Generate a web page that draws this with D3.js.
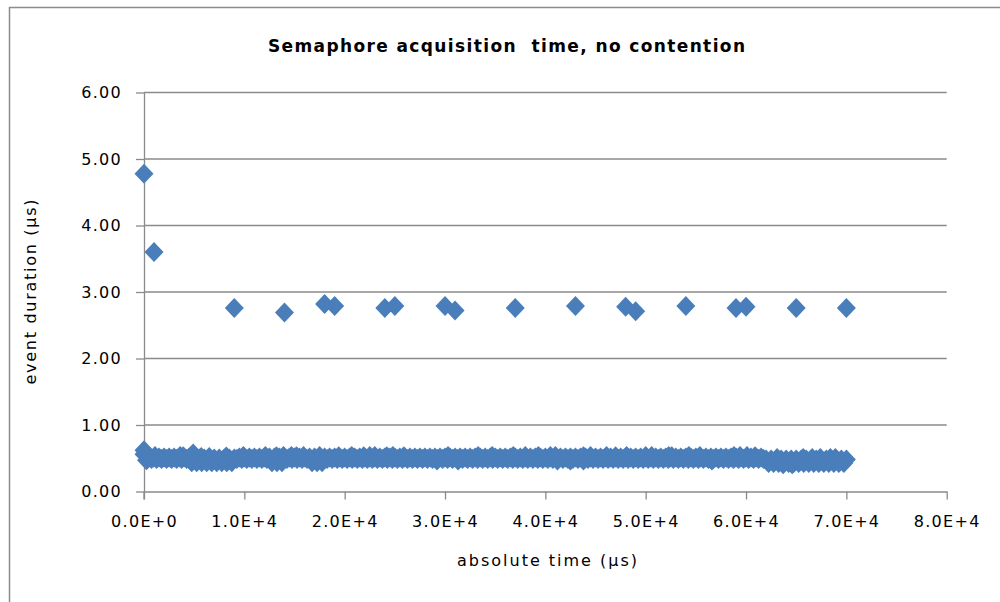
<!DOCTYPE html>
<html>
<head>
<meta charset="utf-8">
<script src="https://cdn.jsdelivr.net/npm/d3@7"></script>
<style>
  html, body { margin: 0; padding: 0; background: #fff; }
  svg { display: block; }
  text { font-family: "DejaVu Sans", sans-serif; fill: #000; }
</style>
</head>
<body>
<svg id="chart" width="1000" height="602"></svg>
<script>
// ---------- DATA ----------
const chartTitle = "Semaphore acquisition  time, no contention";
const xTitle = "absolute time (µs)";
const yTitle = "event duration (µs)";

const xTickValues = [0, 10000, 20000, 30000, 40000, 50000, 60000, 70000, 80000];
const xTickLabels = ["0.0E+0", "1.0E+4", "2.0E+4", "3.0E+4", "4.0E+4", "5.0E+4", "6.0E+4", "7.0E+4", "8.0E+4"];
const yTickValues = [0, 1, 2, 3, 4, 5, 6];
const yTickLabels = ["0.00", "1.00", "2.00", "3.00", "4.00", "5.00", "6.00"];

// dense band of samples: upper edge samples
const bandUpperTime = [
  0, 500, 1000, 1500, 2000, 2500, 3000, 3500, 4000, 4500,
  5000, 5500, 6000, 6500, 7000, 7500, 8000, 8500, 9000, 9500,
  10000, 10500, 11000, 11500, 12000, 12500, 13000, 13500, 14000, 14500,
  15000, 15500, 16000, 16500, 17000, 17500, 18000, 18500, 19000, 19500,
  20000, 20500, 21000, 21500, 22000, 22500, 23000, 23500, 24000, 24500,
  25000, 25500, 26000, 26500, 27000, 27500, 28000, 28500, 29000, 29500,
  30000, 30500, 31000, 31500, 32000, 32500, 33000, 33500, 34000, 34500,
  35000, 35500, 36000, 36500, 37000, 37500, 38000, 38500, 39000, 39500,
  40000, 40500, 41000, 41500, 42000, 42500, 43000, 43500, 44000, 44500,
  45000, 45500, 46000, 46500, 47000, 47500, 48000, 48500, 49000, 49500,
  50000, 50500, 51000, 51500, 52000, 52500, 53000, 53500, 54000, 54500,
  55000, 55500, 56000, 56500, 57000, 57500, 58000, 58500, 59000, 59500,
  60000, 60500, 61000, 61500, 62000, 62500, 63000, 63500, 64000, 64500,
  65000, 65500, 66000, 66500, 67000, 67500, 68000, 68500, 69000, 69500,
  70000
];
const bandUpper = [
  0.56, 0.51, 0.51, 0.51, 0.51, 0.51, 0.51, 0.51, 0.51, 0.51,
  0.51, 0.495, 0.495, 0.495, 0.495, 0.495, 0.495, 0.495, 0.495, 0.51,
  0.51, 0.51, 0.51, 0.51, 0.51, 0.51, 0.51, 0.51, 0.51, 0.51,
  0.51, 0.51, 0.51, 0.51, 0.51, 0.51, 0.51, 0.51, 0.51, 0.51,
  0.51, 0.51, 0.51, 0.51, 0.51, 0.51, 0.51, 0.51, 0.51, 0.51,
  0.51, 0.51, 0.51, 0.51, 0.51, 0.51, 0.51, 0.51, 0.51, 0.51,
  0.51, 0.51, 0.51, 0.51, 0.51, 0.51, 0.51, 0.51, 0.51, 0.51,
  0.51, 0.51, 0.51, 0.51, 0.51, 0.51, 0.51, 0.51, 0.51, 0.51,
  0.51, 0.51, 0.51, 0.51, 0.51, 0.51, 0.51, 0.51, 0.51, 0.51,
  0.51, 0.51, 0.51, 0.51, 0.51, 0.51, 0.51, 0.51, 0.51, 0.51,
  0.51, 0.51, 0.51, 0.51, 0.51, 0.51, 0.51, 0.51, 0.51, 0.51,
  0.51, 0.51, 0.51, 0.51, 0.51, 0.51, 0.51, 0.51, 0.51, 0.51,
  0.51, 0.51, 0.51, 0.51, 0.48, 0.48, 0.48, 0.48, 0.48, 0.48,
  0.48, 0.48, 0.48, 0.48, 0.48, 0.48, 0.48, 0.48, 0.48, 0.48,
  0.48
];

// dense band of samples: lower edge samples
const bandLowerTime = [
  250, 750, 1250, 1750, 2250, 2750, 3250, 3750, 4250, 4750,
  5250, 5750, 6250, 6750, 7250, 7750, 8250, 8750, 9250, 9750,
  10250, 10750, 11250, 11750, 12250, 12750, 13250, 13750, 14250, 14750,
  15250, 15750, 16250, 16750, 17250, 17750, 18250, 18750, 19250, 19750,
  20250, 20750, 21250, 21750, 22250, 22750, 23250, 23750, 24250, 24750,
  25250, 25750, 26250, 26750, 27250, 27750, 28250, 28750, 29250, 29750,
  30250, 30750, 31250, 31750, 32250, 32750, 33250, 33750, 34250, 34750,
  35250, 35750, 36250, 36750, 37250, 37750, 38250, 38750, 39250, 39750,
  40250, 40750, 41250, 41750, 42250, 42750, 43250, 43750, 44250, 44750,
  45250, 45750, 46250, 46750, 47250, 47750, 48250, 48750, 49250, 49750,
  50250, 50750, 51250, 51750, 52250, 52750, 53250, 53750, 54250, 54750,
  55250, 55750, 56250, 56750, 57250, 57750, 58250, 58750, 59250, 59750,
  60250, 60750, 61250, 61750, 62250, 62750, 63250, 63750, 64250, 64750,
  65250, 65750, 66250, 66750, 67250, 67750, 68250, 68750, 69250, 69750
];
const bandLower = [
  0.47, 0.49, 0.49, 0.49, 0.49, 0.49, 0.49, 0.49, 0.49, 0.44,
  0.44, 0.44, 0.44, 0.44, 0.44, 0.44, 0.44, 0.44, 0.49, 0.49,
  0.49, 0.49, 0.49, 0.49, 0.49, 0.44, 0.44, 0.44, 0.49, 0.49,
  0.49, 0.49, 0.49, 0.44, 0.44, 0.44, 0.49, 0.49, 0.49, 0.49,
  0.49, 0.49, 0.49, 0.49, 0.49, 0.49, 0.49, 0.49, 0.49, 0.49,
  0.49, 0.49, 0.49, 0.49, 0.49, 0.49, 0.49, 0.49, 0.49, 0.49,
  0.49, 0.49, 0.49, 0.49, 0.49, 0.49, 0.49, 0.49, 0.49, 0.49,
  0.49, 0.49, 0.49, 0.49, 0.49, 0.49, 0.49, 0.49, 0.49, 0.49,
  0.49, 0.49, 0.49, 0.49, 0.49, 0.49, 0.49, 0.49, 0.49, 0.49,
  0.49, 0.49, 0.49, 0.49, 0.49, 0.49, 0.49, 0.49, 0.49, 0.49,
  0.49, 0.49, 0.49, 0.49, 0.49, 0.49, 0.49, 0.49, 0.49, 0.49,
  0.49, 0.49, 0.49, 0.49, 0.49, 0.49, 0.49, 0.49, 0.49, 0.49,
  0.49, 0.49, 0.49, 0.49, 0.43, 0.43, 0.43, 0.43, 0.43, 0.43,
  0.43, 0.43, 0.43, 0.43, 0.43, 0.43, 0.43, 0.43, 0.43, 0.43
];

// isolated samples poking slightly out of the band
const spikeTime = [
  0, 1100, 3600, 3900, 4900, 5700, 6500, 8200, 9900, 12100,
  13200, 13900, 14700, 15200, 15900, 17500, 19400, 20700, 21900, 22500,
  23000, 24200, 24800, 25900, 30300, 33300, 34700, 36800, 38000, 39300,
  40500, 41000, 43800, 44500, 46100, 47000, 48100, 50000, 50600, 52300,
  52600, 54300, 55400, 58800, 59400, 60100, 60900, 63100, 65700, 66600,
  67400, 68400, 68900,
  29200, 31300, 41200, 42500, 43800, 56600, 63700, 64600
];
const spikeValue = [
  0.62, 0.535, 0.535, 0.53, 0.57, 0.52, 0.52, 0.525, 0.535, 0.535,
  0.53, 0.535, 0.535, 0.53, 0.535, 0.535, 0.53, 0.535, 0.53, 0.535,
  0.535, 0.53, 0.535, 0.53, 0.535, 0.535, 0.535, 0.535, 0.535, 0.535,
  0.535, 0.535, 0.53, 0.535, 0.535, 0.53, 0.535, 0.535, 0.535, 0.535,
  0.53, 0.535, 0.535, 0.535, 0.535, 0.535, 0.53, 0.505, 0.505, 0.505,
  0.505, 0.505, 0.505,
  0.465, 0.465, 0.465, 0.465, 0.465, 0.465, 0.41, 0.41
];

// slow outliers
const outlierTime = [0, 1000, 9000, 14000, 18000, 19000, 24000, 25000, 30000, 31000,
  37000, 43000, 48000, 49000, 54000, 59000, 60000, 65000, 70000];
const outlierValue = [4.78, 3.60, 2.76, 2.69, 2.82, 2.79, 2.76, 2.79, 2.79, 2.72,
  2.76, 2.79, 2.78, 2.71, 2.79, 2.76, 2.78, 2.76, 2.76];

// ---------- DRAWING ----------
const svg = d3.select("#chart");
const plot = { left: 144, right: 946.7, top: 92.5, bottom: 491.5 };
const markerColor = "#4a7ebb";
const gridColor = "#8a8a8a";

// outer border (left and top visible)
svg.append("rect")
  .attr("x", 9.5).attr("y", 7.5)
  .attr("width", 1000).attr("height", 600)
  .attr("fill", "#fff")
  .attr("stroke", "#8c8c8c").attr("stroke-width", 1.5);

const x = d3.scaleLinear().domain([0, 80000]).range([plot.left, plot.right]);
const y = d3.scaleLinear().domain([0, 6]).range([plot.bottom, plot.top]);

// horizontal gridlines
svg.append("g").selectAll("line")
  .data(yTickValues.filter(v => v > 0))
  .join("line")
  .attr("x1", plot.left).attr("x2", plot.right)
  .attr("y1", d => y(d)).attr("y2", d => y(d))
  .attr("stroke", gridColor).attr("stroke-width", 1.3);

// axes
const yAxis = svg.append("g")
  .attr("transform", `translate(${plot.left},0)`)
  .call(d3.axisLeft(y).tickValues(yTickValues)
    .tickFormat((d, i) => yTickLabels[i]).tickSizeInner(8).tickSizeOuter(0).tickPadding(14));
const xAxis = svg.append("g")
  .attr("transform", `translate(0,${plot.bottom})`)
  .call(d3.axisBottom(x).tickValues(xTickValues)
    .tickFormat((d, i) => xTickLabels[i]).tickSizeInner(8).tickSizeOuter(0).tickPadding(16));

[yAxis, xAxis].forEach(a => {
  a.select(".domain").attr("stroke", gridColor).attr("stroke-width", 1.3);
  a.selectAll(".tick line").attr("stroke", gridColor).attr("stroke-width", 1.3);
  a.selectAll(".tick text")
    .style("font-family", '"DejaVu Sans", sans-serif')
    .style("font-size", "16px")
    .style("letter-spacing", "1.3px")
    .attr("fill", "#000");
});
svg.append("line")
  .attr("x1", plot.left).attr("x2", plot.left)
  .attr("y1", plot.bottom).attr("y2", plot.bottom + 8)
  .attr("stroke", gridColor).attr("stroke-width", 1.3);

// markers
const diamond = "M0,-10L9.5,0L0,10L-9.5,0Z";
const points = [];
bandUpperTime.forEach((t, i) => points.push([t, bandUpper[i]]));
bandLowerTime.forEach((t, i) => points.push([t, bandLower[i]]));
spikeTime.forEach((t, i) => points.push([t, spikeValue[i]]));
outlierTime.forEach((t, i) => points.push([t, outlierValue[i]]));

svg.append("g").selectAll("path")
  .data(points)
  .join("path")
  .attr("d", diamond)
  .attr("transform", d => `translate(${x(d[0])},${y(d[1])})`)
  .attr("fill", markerColor);

// titles
svg.append("text")
  .attr("x", 506.5).attr("y", 52)
  .attr("text-anchor", "middle")
  .style("white-space", "pre")
  .attr("textLength", 477).attr("lengthAdjust", "spacing")
  .style("font-size", "17px").style("font-weight", "bold")
  .text(chartTitle);

svg.append("text")
  .attr("x", 547).attr("y", 566)
  .attr("text-anchor", "middle")
  .attr("textLength", 180).attr("lengthAdjust", "spacing")
  .style("font-size", "16px")
  .text(xTitle);

svg.append("text")
  .attr("transform", "translate(36,292) rotate(-90)")
  .attr("text-anchor", "middle")
  .attr("textLength", 185).attr("lengthAdjust", "spacing")
  .style("font-size", "16px")
  .text(yTitle);
</script>
</body>
</html>
